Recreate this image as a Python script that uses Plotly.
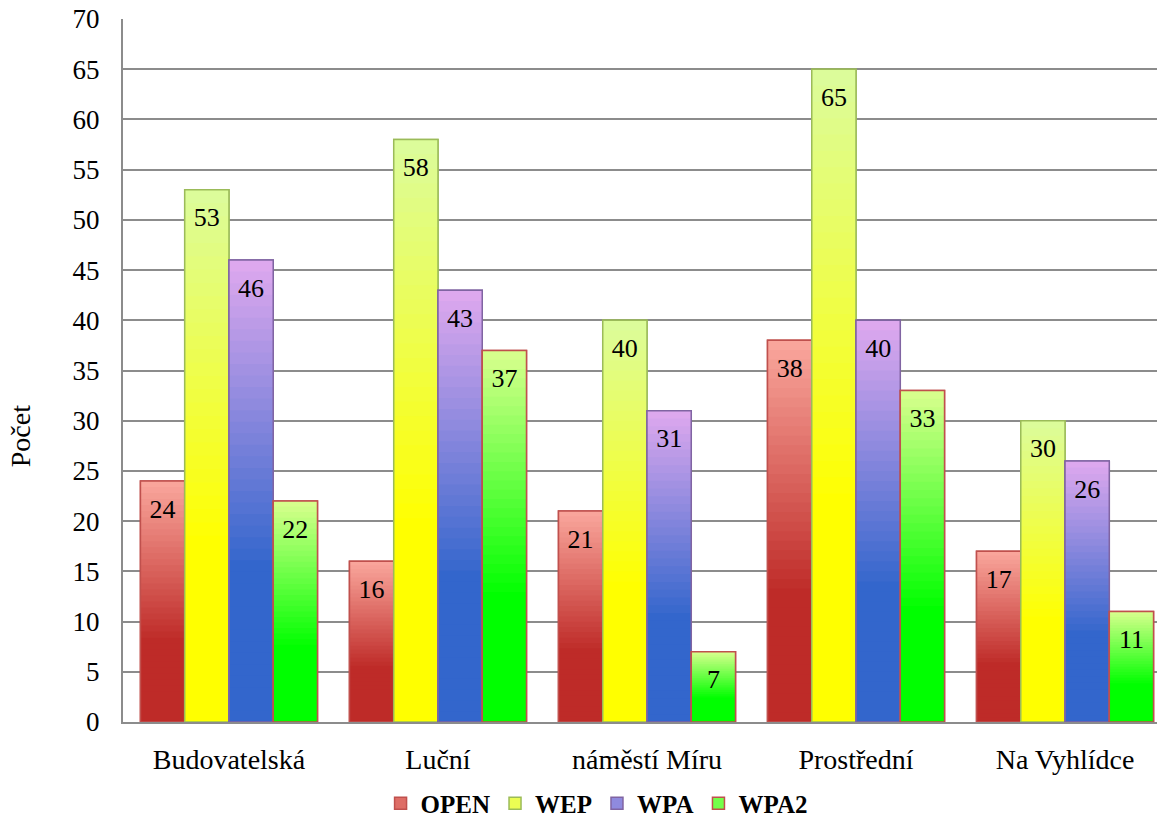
import plotly.graph_objects as go

# Data
locations = ["Budovatelská", "Luční", "náměstí Míru", "Prostřední", "Na Vyhlídce"]
series_names = ["OPEN", "WEP", "WPA", "WPA2"]
open_vals = [24, 16, 21, 38, 17]
wep_vals = [53, 58, 40, 65, 30]
wpa_vals = [46, 43, 31, 40, 26]
wpa2_vals = [22, 37, 7, 33, 11]
y_ticks = list(range(0, 71, 5))

# Styling: (light top colour, saturated bottom colour, border colour)
styles = {
    "OPEN": ((249, 165, 155), (190, 43, 40), "#C0504D"),
    "WEP": ((220, 252, 154), (255, 255, 0), "#9BBB59"),
    "WPA": ((221, 168, 238), (51, 102, 204), "#8064A2"),
    "WPA2": ((214, 255, 140), (0, 255, 0), "#C0504D"),
}
FONT = "Liberation Serif"
LEVELS = 40
SOLID = 0.35  # lower share of each bar that keeps the saturated colour
GAP = 0.153


def shade(top, bottom, t):
    if t <= SOLID:
        return "rgb(%d,%d,%d)" % bottom
    k = (t - SOLID) / (1 - SOLID)
    c = [round(b + (a - b) * k) for a, b in zip(top, bottom)]
    return "rgb(%d,%d,%d)" % tuple(c)


fig = go.Figure()
data = {"OPEN": open_vals, "WEP": wep_vals, "WPA": wpa_vals, "WPA2": wpa2_vals}

for name in series_names:
    vals = data[name]
    top, bottom, border = styles[name]
    # legend entry (mid-tone swatch), hidden under the gradient
    fig.add_trace(go.Bar(
        x=locations, y=vals, name=name, offsetgroup=name,
        marker=dict(color=shade(top, bottom, 0.7), line=dict(color=border, width=1.5)),
        hoverinfo="skip", showlegend=True,
    ))
    # vertical gradient: nested bars from tallest (light) to shortest (dark)
    for i in range(LEVELS):
        t = 1 - i / LEVELS
        fig.add_trace(go.Bar(
            x=locations, y=[v * t for v in vals], offsetgroup=name,
            marker=dict(color=shade(top, bottom, t), line=dict(width=0)),
            showlegend=False, hoverinfo="skip",
        ))
    # outline
    fig.add_trace(go.Bar(
        x=locations, y=vals, offsetgroup=name, showlegend=False,
        marker=dict(color="rgba(0,0,0,0)", line=dict(color=border, width=1.5)),
        name=name,
    ))

# value labels just under each bar top
for name in series_names:
    vals = data[name]
    fig.add_trace(go.Scatter(
        x=locations, y=vals, offsetgroup=name, mode="markers+text",
        text=[str(v) for v in vals], textposition="bottom center",
        marker=dict(size=26, opacity=0),
        textfont=dict(family=FONT, size=26, color="black"),
        showlegend=False, hoverinfo="skip",
    ))

fig.update_layout(
    width=1157, height=820,
    margin=dict(l=123, r=0, t=19, b=98),
    paper_bgcolor="white", plot_bgcolor="white",
    barmode="group", bargap=GAP, bargroupgap=0,
    scattermode="group", scattergap=GAP,
    font=dict(family=FONT, size=26, color="black"),
    showlegend=True,
    legend=dict(
        orientation="h", x=0.458, xanchor="center",
        yref="container", y=0.02, yanchor="middle",
        font=dict(family=FONT, size=25, color="black", weight="bold"),
        itemwidth=30, tracegroupgap=0,
    ),
    xaxis=dict(
        range=[-0.507, 4.44],
        showline=True, linecolor="#8c8c8c", linewidth=2,
        ticks="", ticklabelstandoff=11, automargin=False,
        tickfont=dict(family=FONT, size=28),
    ),
    yaxis=dict(
        range=[0, 70], tickvals=y_ticks, automargin=False,
        showline=True, linecolor="#8c8c8c", linewidth=2,
        showgrid=True, gridcolor="#8c8c8c", gridwidth=2,
        ticks="", ticklabelstandoff=16, zeroline=False,
        tickfont=dict(family=FONT, size=27),
    ),
    annotations=[dict(
        text="Počet", textangle=-90, showarrow=False,
        xref="paper", yref="paper", x=-0.099, y=0.406,
        xanchor="center", yanchor="middle",
        font=dict(family=FONT, size=28, color="black"),
    )],
)

fig.write_html("out.html")
